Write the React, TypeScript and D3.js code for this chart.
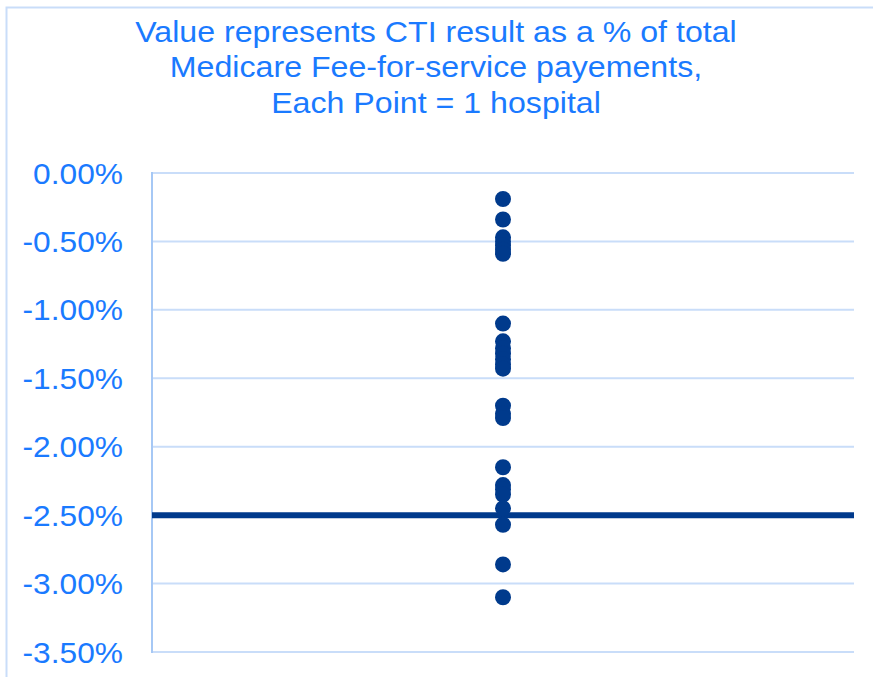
import React, { useEffect, useRef } from "react";
import * as d3 from "d3";

// each value = one hospital, CTI result as % of total Medicare FFS payments
const hospitalValues = [
  -0.19, -0.34, -0.47, -0.5, -0.53, -0.56, -0.59, -1.1, -1.23, -1.28, -1.32,
  -1.36, -1.4, -1.43, -1.7, -1.76, -1.79, -2.15, -2.28, -2.31, -2.35, -2.45,
  -2.57, -2.86, -3.1,
];
const thresholdValue = -2.5;
const yTicks = [0, -0.5, -1, -1.5, -2, -2.5, -3, -3.5];
const titleLines = [
  "Value represents CTI result as a % of total",
  "Medicare Fee-for-service payements,",
  "Each Point = 1 hospital",
];

const App = () => {
  const svgRef = useRef(null);
  const width = 873;
  const height = 677;
  const margin = { top: 173, right: 19, bottom: 25, left: 152 };

  useEffect(() => {
    const svg = d3.select(svgRef.current);
    svg.selectAll("*").remove();

    const blue = "#1a7aff";
    const navy = "#003a8c";
    const font = "'Liberation Sans', Arial, sans-serif";

    // outer frame
    svg
      .append("path")
      .attr("d", `M6.5,${height} V7.5 H${width}`)
      .attr("fill", "none")
      .attr("stroke", "#c9ddf9")
      .attr("stroke-width", 2);

    const y = d3
      .scaleLinear()
      .domain([-3.5, 0])
      .range([height - margin.bottom, margin.top]);
    const x = d3
      .scaleLinear()
      .domain([0, 1])
      .range([margin.left, width - margin.right]);

    // gridlines
    svg
      .append("g")
      .selectAll("line")
      .data(yTicks)
      .enter()
      .append("line")
      .attr("x1", x(0))
      .attr("x2", x(1))
      .attr("y1", (d) => y(d))
      .attr("y2", (d) => y(d))
      .attr("stroke", "#c9ddf9")
      .attr("stroke-width", 2);

    // y axis line
    svg
      .append("line")
      .attr("x1", x(0))
      .attr("x2", x(0))
      .attr("y1", y(0) - 1)
      .attr("y2", y(-3.5) + 1)
      .attr("stroke", "#a6c8f5")
      .attr("stroke-width", 2);

    // tick labels (excel text renders a bit wide, so stretch horizontally)
    const fmt = d3.format(".2f");
    svg
      .append("g")
      .selectAll("text")
      .data(yTicks)
      .enter()
      .append("text")
      .attr("transform", (d) => `translate(123,${y(d)}) scale(1.075,1)`)
      .attr("dy", "0.36em")
      .attr("text-anchor", "end")
      .attr("fill", blue)
      .style("font-family", font)
      .style("font-size", "29.5px")
      .text((d) => fmt(d).replace("\u2212", "-") + "%");

    // threshold line
    svg
      .append("line")
      .attr("x1", x(0))
      .attr("x2", x(1))
      .attr("y1", y(thresholdValue))
      .attr("y2", y(thresholdValue))
      .attr("stroke", navy)
      .attr("stroke-width", 6);

    // hospital points
    svg
      .append("g")
      .selectAll("circle")
      .data(hospitalValues)
      .enter()
      .append("circle")
      .attr("cx", x(0.5))
      .attr("cy", (d) => y(d))
      .attr("r", 8)
      .attr("fill", navy);

    // title
    svg
      .append("g")
      .selectAll("text")
      .data(titleLines)
      .enter()
      .append("text")
      .attr(
        "transform",
        (d, i) => `translate(436,${41.5 + i * 35.5}) scale(1.09,1)`
      )
      .attr("text-anchor", "middle")
      .attr("fill", blue)
      .style("font-family", font)
      .style("font-size", "29.5px")
      .text((d) => d);
  }, []);

  return (
    <svg
      ref={svgRef}
      width={width}
      height={height}
      style={{ position: "absolute", left: 0, top: 0, background: "#fff" }}
    />
  );
};

export default App;
